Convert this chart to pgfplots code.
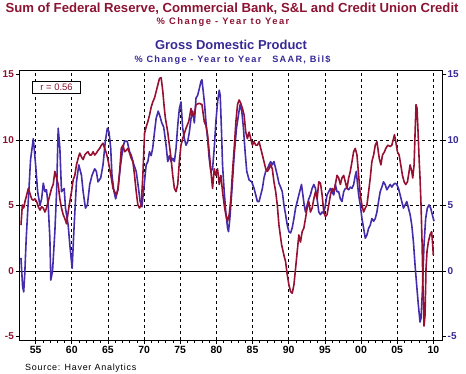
\documentclass[border=0pt]{standalone}
\usepackage{fontspec}
\setmainfont{Liberation Sans}
\usepackage{pgfplots}
\pgfplotsset{compat=1.18}
\definecolor{cred}{RGB}{150,16,50}
\definecolor{cblue}{RGB}{68,44,170}
\definecolor{tred}{RGB}{140,20,50}
\definecolor{tblue}{RGB}{55,40,150}
\begin{document}
\begin{tikzpicture}
\begin{axis}[name=ax, scale only axis, width=422.5bp, height=270bp,
  xmin=1952.77, xmax=2011.2, ymin=-5.27, ymax=15.34,
  xtick={1955,1960,...,2010}, xticklabels={55,60,65,70,75,80,85,90,95,00,05,10},
  minor x tick num=4,
  ytick={-5,0,5,10,15}, yticklabels={-5,0,5,10,15},
  tick align=outside, major tick length=4bp, minor tick length=2.5bp,
  xtick pos=bottom, ytick pos=left,
  tick style={black, line width=0.7pt},
  xmajorgrids, major x grid style={black, line width=0.6pt, dash pattern=on 3bp off 3bp},
  axis line style={line width=0.9pt},
  yticklabel style={font=\bfseries\fontsize{10}{12}\selectfont, text=tred, inner sep=1.5bp},
  xticklabel style={font=\bfseries\fontsize{10.5}{12}\selectfont, inner sep=2bp},
  clip=true]
\draw[black, line width=0.6pt, dash pattern=on 3bp off 3bp] (axis cs:1952.77,5) -- (axis cs:2011.2,5);
\draw[black, line width=0.6pt, dash pattern=on 3bp off 3bp] (axis cs:1952.77,10) -- (axis cs:2011.2,10);
\draw[black, line width=0.8pt] (axis cs:1952.77,0) -- (axis cs:2011.2,0);
% GDP
\addplot[cblue, line width=1.6bp, line join=round] coordinates {
(1952.97,1.0)(1953.2,-1.2)(1953.35,-1.6)(1953.5,-0.2)(1953.7,2.5)(1954.0,5.5)(1954.3,8.5)(1954.68,10.1)
(1955.0,8.1)(1955.28,6.05)(1955.6,5.0)(1955.83,5.5)(1956.06,6.7)(1956.29,6.05)(1956.5,6.2)(1956.74,5.0)
(1956.97,2.5)(1957.1,-0.7)(1957.34,0.0)(1957.66,3.0)(1957.9,6.05)(1958.12,10.9)(1958.35,9.4)(1958.58,6.05)
(1958.95,6.3)(1959.13,4.8)(1959.5,3.5)(1959.73,2.0)(1960.05,0.2)(1960.33,3.5)(1960.65,6.8)(1960.97,8.1)
(1961.34,7.3)(1961.57,6.05)(1961.89,4.8)(1962.16,5.04)(1962.48,6.6)(1962.8,7.3)(1963.17,7.8)(1963.4,7.6)
(1963.63,6.8)(1964.0,7.1)(1964.32,8.1)(1964.64,9.9)(1964.92,10.9)(1965.15,10.6)(1965.38,9.4)(1965.56,7.3)
(1965.84,6.05)(1966.07,5.5)(1966.39,6.3)(1966.75,8.1)(1967.07,9.4)(1967.3,9.9)(1967.67,9.9)(1967.99,9.1)
(1968.22,8.85)(1968.59,8.1)(1968.91,7.6)(1969.23,6.3)(1969.45,5.3)(1969.7,4.9)(1970.0,6.5)(1970.29,8.1)
(1970.52,8.35)(1970.75,9.1)(1970.98,8.8)(1971.2,9.4)(1971.44,10.6)(1971.67,11.65)(1971.95,12.2)(1972.2,11.8)
(1972.45,11.3)(1972.7,11.0)(1972.81,10.6)(1973.04,9.6)(1973.27,8.35)(1973.5,8.8)(1973.73,8.35)(1973.96,8.6)
(1974.19,8.35)(1974.42,9.36)(1974.65,11.1)(1974.88,12.4)(1975.1,12.9)(1975.34,10.9)(1975.57,10.1)(1975.8,9.6)
(1976.03,9.87)(1976.26,10.6)(1976.49,11.65)(1976.72,12.2)(1976.95,11.3)(1977.18,13.2)(1977.4,13.4)(1977.63,13.9)
(1977.86,14.45)(1978.0,14.6)(1978.18,13.7)(1978.37,12.7)(1978.55,11.4)(1978.78,10.1)(1979.0,8.6)(1979.24,7.6)
(1979.47,7.8)(1979.7,9.36)(1979.93,11.4)(1980.16,12.9)(1980.39,13.8)(1980.53,13.4)(1980.71,10.6)(1980.85,8.1)
(1981.08,6.05)(1981.3,4.5)(1981.54,3.3)(1981.67,3.0)(1981.86,4.0)(1982.13,6.05)(1982.46,8.85)(1982.78,10.9)
(1983.05,11.9)(1983.28,12.7)(1983.51,12.2)(1983.74,10.9)(1983.97,9.1)(1984.2,7.6)(1984.52,6.95)(1984.89,6.8)
(1985.21,6.3)(1985.44,5.8)(1985.67,5.3)(1985.9,5.3)(1986.13,5.8)(1986.36,6.3)(1986.58,7.1)(1986.82,7.6)
(1987.05,7.8)(1987.28,8.1)(1987.5,8.35)(1987.73,8.1)(1987.96,8.35)(1988.2,7.8)(1988.42,7.3)(1988.65,6.7)
(1988.88,6.4)(1989.11,6.05)(1989.34,5.04)(1989.57,4.3)(1989.8,3.5)(1990.03,3.0)(1990.26,2.9)(1990.49,3.3)
(1990.72,4.0)(1990.95,4.8)(1991.18,5.3)(1991.4,5.8)(1991.63,6.3)(1991.77,6.6)(1991.96,5.8)(1992.14,5.04)
(1992.32,4.5)(1992.55,5.04)(1992.78,5.5)(1993.0,5.8)(1993.24,6.3)(1993.47,6.6)(1993.7,6.3)(1993.93,5.5)
(1994.16,4.5)(1994.39,4.3)(1994.62,4.5)(1994.85,4.4)(1995.08,5.04)(1995.3,5.8)(1995.54,6.05)(1995.77,6.3)
(1996.0,6.05)(1996.23,5.8)(1996.45,6.6)(1996.68,6.05)(1996.91,6.05)(1997.14,5.5)(1997.37,5.3)(1997.6,6.05)
(1997.83,6.3)(1998.06,6.3)(1998.29,6.2)(1998.52,6.4)(1998.75,6.3)(1998.98,6.6)(1999.21,7.3)(1999.35,7.6)
(1999.49,6.8)(1999.67,5.8)(1999.9,5.04)(2000.13,4.0)(2000.36,3.26)(2000.59,2.5)(2000.82,2.75)(2001.05,3.26)
(2001.28,3.5)(2001.5,4.0)(2001.74,3.8)(2001.97,4.0)(2002.2,4.5)(2002.42,5.3)(2002.65,6.05)(2002.88,6.4)
(2003.11,6.8)(2003.34,6.6)(2003.57,6.2)(2003.8,6.4)(2004.03,6.6)(2004.26,6.4)(2004.49,6.6)(2004.72,6.7)
(2004.95,6.6)(2005.18,6.3)(2005.41,5.8)(2005.64,5.3)(2005.87,4.8)(2006.1,5.04)(2006.33,5.3)(2006.56,4.8)
(2006.79,4.3)(2007.02,3.5)(2007.25,2.2)(2007.48,0.4)(2007.7,-1.1)(2007.93,-2.6)(2008.16,-3.9)(2008.3,-3.6)
(2008.48,-1.6)(2008.71,2.0)(2008.94,4.0)(2009.17,4.8)(2009.4,5.04)(2009.63,4.8)(2009.86,4.3)(2010.09,3.8)
};
% Credit
\addplot[cred, line width=1.6bp, line join=round] coordinates {
(1952.98,3.5)(1953.16,5.04)(1953.35,4.8)(1953.53,5.3)(1953.76,5.8)(1953.99,6.3)(1954.22,5.9)(1954.45,5.5)
(1954.68,5.4)(1954.9,5.5)(1955.14,5.3)(1955.37,4.9)(1955.6,4.65)(1955.83,4.9)(1956.06,4.8)(1956.29,4.5)
(1956.5,4.8)(1956.74,5.3)(1956.97,5.8)(1957.2,6.3)(1957.43,6.6)(1957.66,7.6)(1957.9,7.1)(1958.12,6.6)
(1958.35,5.5)(1958.58,4.8)(1958.81,4.3)(1959.04,4.0)(1959.27,3.6)(1959.5,4.5)(1959.73,5.3)(1959.96,6.05)
(1960.19,6.95)(1960.42,7.3)(1960.65,8.1)(1960.88,8.6)(1961.1,9.0)(1961.34,8.7)(1961.57,8.5)(1961.8,8.85)
(1962.02,9.0)(1962.25,9.1)(1962.48,8.85)(1962.71,8.85)(1962.94,9.1)(1963.17,8.85)(1963.4,9.0)(1963.63,9.2)
(1963.86,9.36)(1964.09,9.6)(1964.32,9.75)(1964.55,9.36)(1964.78,9.0)(1965.0,8.5)(1965.24,7.8)(1965.47,7.1)
(1965.7,6.3)(1965.93,6.05)(1966.16,5.8)(1966.39,6.2)(1966.62,7.6)(1966.85,9.36)(1967.08,9.6)(1967.3,9.1)
(1967.53,9.2)(1967.76,9.36)(1967.99,9.0)(1968.22,8.6)(1968.45,8.35)(1968.68,7.3)(1968.91,6.05)(1969.14,5.04)
(1969.37,4.8)(1969.6,5.04)(1969.83,7.3)(1970.06,10.5)(1970.29,11.0)(1970.52,11.4)(1970.75,11.9)(1970.98,12.5)
(1971.2,12.9)(1971.44,13.2)(1971.67,13.7)(1971.9,14.2)(1972.13,14.7)(1972.36,14.75)(1972.59,13.7)(1972.8,12.4)
(1972.95,11.65)(1973.27,10.6)(1973.5,9.6)(1973.73,8.6)(1973.96,7.3)(1974.19,6.3)(1974.42,6.05)(1974.65,6.6)
(1974.88,8.35)(1975.1,9.6)(1975.34,10.1)(1975.57,10.5)(1975.8,10.9)(1976.17,11.4)(1976.49,12.4)(1976.72,11.9)
(1976.95,11.9)(1977.18,12.7)(1977.63,12.8)(1978.0,12.7)(1978.32,11.4)(1978.55,11.1)(1978.78,10.4)(1979.0,9.1)
(1979.24,7.6)(1979.47,6.3)(1979.7,7.8)(1979.93,7.3)(1980.16,7.8)(1980.39,6.6)(1980.62,7.3)(1980.85,6.05)
(1981.08,5.04)(1981.3,4.3)(1981.54,3.8)(1981.77,4.3)(1982.0,5.5)(1982.23,7.6)(1982.46,9.36)(1982.7,11.4)
(1982.92,12.7)(1983.14,13.05)(1983.37,12.8)(1983.6,12.4)(1983.83,11.9)(1984.06,10.6)(1984.29,10.1)(1984.52,10.6)
(1984.75,10.1)(1984.98,9.6)(1985.2,9.87)(1985.44,9.6)(1985.67,9.6)(1985.9,9.87)(1986.13,9.36)(1986.36,8.85)
(1986.58,8.35)(1986.82,7.8)(1987.05,7.6)(1987.28,7.8)(1987.5,8.1)(1987.73,7.8)(1987.96,6.8)(1988.2,6.05)
(1988.42,5.04)(1988.65,3.5)(1989.02,2.0)(1989.34,1.2)(1989.57,0.7)(1989.8,-0.3)(1990.03,-1.07)(1990.26,-1.58)
(1990.49,-1.7)(1990.72,-1.07)(1990.95,0.2)(1991.18,1.5)(1991.4,2.75)(1991.63,2.2)(1991.86,3.0)(1992.09,3.26)
(1992.32,4.0)(1992.55,4.8)(1992.78,5.3)(1993.0,4.5)(1993.24,4.8)(1993.47,5.5)(1993.7,6.05)(1993.93,5.5)
(1994.16,6.8)(1994.39,6.7)(1994.62,5.8)(1994.85,4.5)(1995.08,4.15)(1995.3,4.3)(1995.54,5.04)(1995.77,5.8)
(1996.0,6.3)(1996.23,6.05)(1996.45,6.6)(1996.68,7.3)(1996.91,7.1)(1997.14,6.6)(1997.37,7.1)(1997.6,7.3)
(1997.83,6.8)(1998.06,6.3)(1998.29,7.1)(1998.52,7.6)(1998.75,8.35)(1998.98,9.1)(1999.21,9.36)(1999.44,8.85)
(1999.67,7.3)(1999.9,5.8)(2000.13,5.04)(2000.36,4.5)(2000.59,4.8)(2000.82,5.04)(2001.05,6.05)(2001.28,7.1)
(2001.5,8.35)(2001.74,8.85)(2001.97,9.6)(2002.2,9.87)(2002.33,9.36)(2002.52,8.6)(2002.75,8.1)(2002.97,8.85)
(2003.25,9.1)(2003.43,9.36)(2003.71,9.6)(2004.03,9.5)(2004.26,9.6)(2004.49,10.1)(2004.63,10.4)(2004.81,9.87)
(2005.04,9.1)(2005.27,8.85)(2005.5,8.1)(2005.73,7.3)(2005.96,6.8)(2006.19,6.6)(2006.42,6.8)(2006.65,7.6)
(2006.79,8.1)(2007.02,7.6)(2007.15,7.1)(2007.34,8.1)(2007.48,10.6)(2007.61,12.7)(2007.75,12.4)(2007.89,10.6)
(2008.03,8.6)(2008.16,7.1)(2008.3,5.04)(2008.44,2.2)(2008.58,-1.58)(2008.71,-4.2)(2008.85,-3.4)(2008.99,0.2)
(2009.13,1.5)(2009.31,2.2)(2009.54,2.75)(2009.77,3.0)(2009.91,2.0)(2010.0,1.2)
};
\node[draw=black, fill=white, line width=0.7pt, anchor=north west, minimum width=47.7bp, minimum height=12bp,
  inner sep=0pt, text=tred, font=\fontsize{9.5}{10}\selectfont] at (rel axis cs:0.0303,0.9604) {r = 0.56};
\end{axis}
\begin{axis}[scale only axis, width=422.5bp, height=270bp,
  xmin=1952.77, xmax=2011.2, ymin=-5.27, ymax=15.34,
  hide x axis, axis y line*=right,
  ytick={-5,0,5,10,15}, yticklabels={-5,0,5,10,15},
  tick align=outside, major tick length=4bp,
  tick style={black, line width=0.7pt},
  axis line style={line width=0.9pt},
  yticklabel style={font=\bfseries\fontsize{10}{12}\selectfont, text=tblue, inner sep=1.5bp}]
\addplot[draw=none] coordinates {(1960,0)};
\end{axis}
\node[anchor=base, text=tred, font=\bfseries\fontsize{13.2}{15}\selectfont] at ([xshift=1.3bp,yshift=57.3bp]ax.north) {Sum of Federal Reserve, Commercial Bank, S\&L and Credit Union Credit};
\node[anchor=base, text=tred, font=\bfseries\fontsize{9.4}{10}\selectfont\addfontfeatures{LetterSpace=16}] at ([xshift=-7.7bp,yshift=45bp]ax.north) {\% Change - Year to Year};
\node[anchor=base, text=tblue, font=\bfseries\fontsize{13}{15}\selectfont] at ([xshift=0.3bp,yshift=20.7bp]ax.north) {Gross Domestic Product};
\node[anchor=base, text=tblue, font=\bfseries\fontsize{9.2}{10}\selectfont\addfontfeatures{LetterSpace=14}] at ([xshift=1.8bp,yshift=7.3bp]ax.north) {\% Change - Year to Year\hspace{1.2em}SAAR, Bil\$};
\node[anchor=base west, font=\fontsize{9}{10}\selectfont\addfontfeatures{LetterSpace=8}] at ([xshift=2.2bp,yshift=-30bp]ax.south west) {Source: Haver Analytics};
\pgfresetboundingbox
\path ([xshift=-19.5bp,yshift=-34bp]ax.south west) rectangle ([xshift=24bp,yshift=70bp]ax.north east);
\end{tikzpicture}
\end{document}
